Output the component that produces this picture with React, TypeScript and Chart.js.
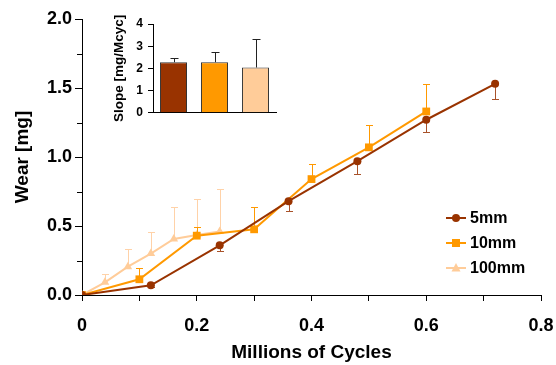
import React, { useEffect, useRef } from "react";
import { Chart, registerables } from "chart.js";

Chart.register(...registerables);

// ---- data ----
const seriesNames = ["5mm", "10mm", "100mm"];
const seriesColors = ["#993300", "#FF9900", "#FFCC99"];
const errorColors = ["#A8522A", "#FF9900", "#FFD2A8"];

const cycles5 = [0, 0.12, 0.24, 0.36, 0.48, 0.6, 0.72];
const wear5 = [0, 0.07, 0.36, 0.68, 0.97, 1.27, 1.53];
const err5 = [0, 0.01, 0.04, 0.07, 0.09, 0.09, 0.11];

const cycles10 = [0, 0.1, 0.2, 0.3, 0.4, 0.5, 0.6];
const wear10 = [0, 0.114, 0.43, 0.476, 0.84, 1.07, 1.33];
const err10 = [0, 0.08, 0.06, 0.16, 0.11, 0.16, 0.2];

const cycles100 = [0, 0.04, 0.08, 0.12, 0.16, 0.2, 0.24];
const wear100 = [0, 0.092, 0.205, 0.3, 0.406, 0.435, 0.46];
const err100 = [0, 0.06, 0.13, 0.16, 0.23, 0.26, 0.31];

const slopeLabels = ["5mm", "10mm", "100mm"];
const slopes = [2.28, 2.28, 2.04];
const slopeErr = [0.17, 0.44, 1.29];

// error direction per series: -1 down, +1 up
const errDirs = [-1, 1, 1];
const errArrays = [err5, err10, err100];

const FONT = "'Liberation Sans', Arial, Helvetica, sans-serif";

const toPts = (xs: number[], ys: number[]) => xs.map((x, i) => ({ x, y: ys[i] }));

const mainErrorBars = {
  id: "mainErrorBars",
  beforeDatasetDraw(chart: any, args: any) {
    const i = args.index;
    const errs = errArrays[i];
    const dir = errDirs[i];
    const meta = chart.getDatasetMeta(i);
    const ys = chart.scales.y;
    const data = chart.data.datasets[i].data as any[];
    const ctx = chart.ctx;
    ctx.save();
    ctx.strokeStyle = errorColors[i];
    ctx.lineWidth = 1;
    meta.data.forEach((pt: any, k: number) => {
      const e = errs[k];
      if (!e) return;
      const end = ys.getPixelForValue(data[k].y + dir * e);
      const x = Math.round(pt.x) + 0.5;
      const ye = Math.round(end) + 0.5;
      ctx.beginPath();
      ctx.moveTo(x, pt.y);
      ctx.lineTo(x, ye);
      ctx.moveTo(x - 3.5, ye);
      ctx.lineTo(x + 3.5, ye);
      ctx.stroke();
    });
    ctx.restore();
  },
};

const minorTicks = {
  id: "minorTicks",
  afterDraw(chart: any) {
    const ys = chart.scales.y;
    const ctx = chart.ctx;
    ctx.save();
    ctx.strokeStyle = "#000";
    ctx.lineWidth = 1;
    const vals = [0.25, 0.75, 1.25, 1.75];
    vals.forEach((v) => {
      const py = Math.round(ys.getPixelForValue(v)) + 0.5;
      ctx.beginPath();
      ctx.moveTo(ys.right - 5, py);
      ctx.lineTo(ys.right, py);
      ctx.stroke();
    });
    ctx.restore();
  },
};

function drawMarker(ctx: CanvasRenderingContext2D, kind: number, x: number, y: number, color: string) {
  ctx.fillStyle = color;
  ctx.beginPath();
  if (kind === 0) {
    ctx.arc(x, y, 4, 0, Math.PI * 2);
  } else if (kind === 1) {
    ctx.rect(x - 4, y - 4, 8, 8);
  } else {
    ctx.moveTo(x, y - 5);
    ctx.lineTo(x + 4.5, y + 3.5);
    ctx.lineTo(x - 4.5, y + 3.5);
    ctx.closePath();
  }
  ctx.fill();
}

const customLegend = {
  id: "customLegend",
  afterDraw(chart: any) {
    const ctx = chart.ctx;
    const rowsY = [218, 243, 268];
    ctx.save();
    ctx.font = `bold 16px ${FONT}`;
    ctx.textBaseline = "middle";
    ctx.textAlign = "left";
    seriesNames.forEach((name, i) => {
      const y = rowsY[i];
      ctx.strokeStyle = seriesColors[i];
      ctx.lineWidth = 2;
      ctx.beginPath();
      ctx.moveTo(446, y);
      ctx.lineTo(466, y);
      ctx.stroke();
      drawMarker(ctx, i, 456, y, seriesColors[i]);
      ctx.fillStyle = "#000";
      ctx.fillText(name, 470, y + 1);
    });
    ctx.restore();
  },
};

const insetErrorBars = {
  id: "insetErrorBars",
  afterDatasetsDraw(chart: any) {
    const meta = chart.getDatasetMeta(0);
    const ys = chart.scales.y;
    const ctx = chart.ctx;
    ctx.save();
    ctx.strokeStyle = "#222";
    ctx.lineWidth = 1;
    meta.data.forEach((bar: any, k: number) => {
      const top = ys.getPixelForValue(slopes[k]);
      const end = Math.round(ys.getPixelForValue(slopes[k] + slopeErr[k])) + 0.5;
      const x = Math.round(bar.x) + 0.5;
      ctx.beginPath();
      ctx.moveTo(x, top);
      ctx.lineTo(x, end);
      ctx.moveTo(x - 4, end);
      ctx.lineTo(x + 4, end);
      ctx.stroke();
    });
    ctx.restore();
  },
};

export default function App() {
  const mainRef = useRef<HTMLCanvasElement>(null);
  const insetRef = useRef<HTMLCanvasElement>(null);

  useEffect(() => {
    const pointStyles = ["circle", "rect", "triangle"];
    const radii = [4, 5.5, 5];
    const seriesData = [toPts(cycles5, wear5), toPts(cycles10, wear10), toPts(cycles100, wear100)];

    const main = new Chart(mainRef.current!, {
      type: "scatter",
      data: {
        datasets: seriesNames.map((name, i) => ({
          label: name,
          data: seriesData[i],
          showLine: true,
          borderColor: seriesColors[i],
          backgroundColor: seriesColors[i],
          borderWidth: 2,
          pointStyle: pointStyles[i] as any,
          pointRadius: radii[i],
          pointBorderWidth: 0,
          pointBackgroundColor: seriesColors[i],
          tension: 0,
        })),
      },
      options: {
        responsive: false,
        animation: false,
        devicePixelRatio: 1,
        layout: { padding: { top: 19, right: 2, left: 0, bottom: 0 } },
        plugins: { legend: { display: false }, tooltip: { enabled: false } },
        scales: {
          x: {
            type: "linear",
            min: 0,
            max: 0.8,
            afterFit: (s: any) => {
              s.height = 70;
              s.paddingLeft = 0;
              s.paddingRight = 15;
            },
            border: { display: true, color: "#000", width: 1 },
            grid: { display: true, drawOnChartArea: false, drawTicks: true, tickLength: 6, color: "#000" },
            ticks: {
              stepSize: 0.1,
              autoSkip: false,
              maxRotation: 0,
              padding: 14,
              color: "#000",
              font: { family: FONT, size: 18, weight: "bold" },
              callback: (v: any) => {
                const r = Math.round(Number(v) * 10);
                if (r % 2 !== 0) return "";
                return r === 0 ? "0" : (r / 10).toString();
              },
            },
            title: {
              display: true,
              text: "Millions of Cycles",
              color: "#000",
              font: { family: FONT, size: 19, weight: "bold" },
              padding: { top: 0, bottom: 1 },
            },
          },
          y: {
            type: "linear",
            min: 0,
            max: 2,
            afterFit: (s: any) => {
              s.width = 82;
            },
            border: { display: true, color: "#000", width: 1 },
            grid: { display: true, drawOnChartArea: false, drawTicks: true, tickLength: 7, color: "#000" },
            ticks: {
              stepSize: 0.5,
              padding: 3,
              color: "#000",
              font: { family: FONT, size: 18, weight: "bold" },
              callback: (v: any) => Number(v).toFixed(1),
            },
            title: {
              display: true,
              text: "Wear [mg]",
              color: "#000",
              font: { family: FONT, size: 19, weight: "bold" },
              padding: { top: 11, bottom: 0 },
            },
          },
        },
      },
      plugins: [mainErrorBars, minorTicks, customLegend],
    });

    const inset = new Chart(insetRef.current!, {
      type: "bar",
      data: {
        labels: slopeLabels,
        datasets: [
          {
            data: slopes,
            backgroundColor: seriesColors,
            borderColor: "#333",
            borderWidth: 1,
            barPercentage: 0.66,
            categoryPercentage: 1,
          },
        ],
      },
      options: {
        responsive: false,
        animation: false,
        devicePixelRatio: 1,
        layout: { padding: { top: 14, right: 9, left: 0, bottom: 0 } },
        plugins: { legend: { display: false }, tooltip: { enabled: false } },
        scales: {
          x: {
            afterFit: (s: any) => {
              s.height = 12;
            },
            border: { display: true, color: "#000", width: 1 },
            grid: { display: false },
            ticks: { display: false },
          },
          y: {
            min: 0,
            max: 4,
            afterFit: (s: any) => {
              s.width = 53;
            },
            border: { display: true, color: "#000", width: 1 },
            grid: { display: true, drawOnChartArea: false, drawTicks: true, tickLength: 5, color: "#000" },
            ticks: {
              stepSize: 1,
              padding: 5,
              color: "#000",
              font: { family: FONT, size: 12, weight: "bold" },
            },
            title: {
              display: true,
              text: "Slope [mg/Mcyc]",
              color: "#000",
              font: { family: FONT, size: 13.5, weight: "bold" },
              padding: { top: 11, bottom: 0 },
            },
          },
        },
      },
      plugins: [insetErrorBars],
    });

    return () => {
      main.destroy();
      inset.destroy();
    };
  }, []);

  return (
    <div style={{ position: "fixed", left: 0, top: 0, width: 556, height: 365, background: "#fff" }}>
      <canvas ref={mainRef} width={556} height={365} style={{ position: "absolute", left: 0, top: 0 }} />
      <canvas ref={insetRef} width={185} height={115} style={{ position: "absolute", left: 100, top: 10 }} />
    </div>
  );
}
